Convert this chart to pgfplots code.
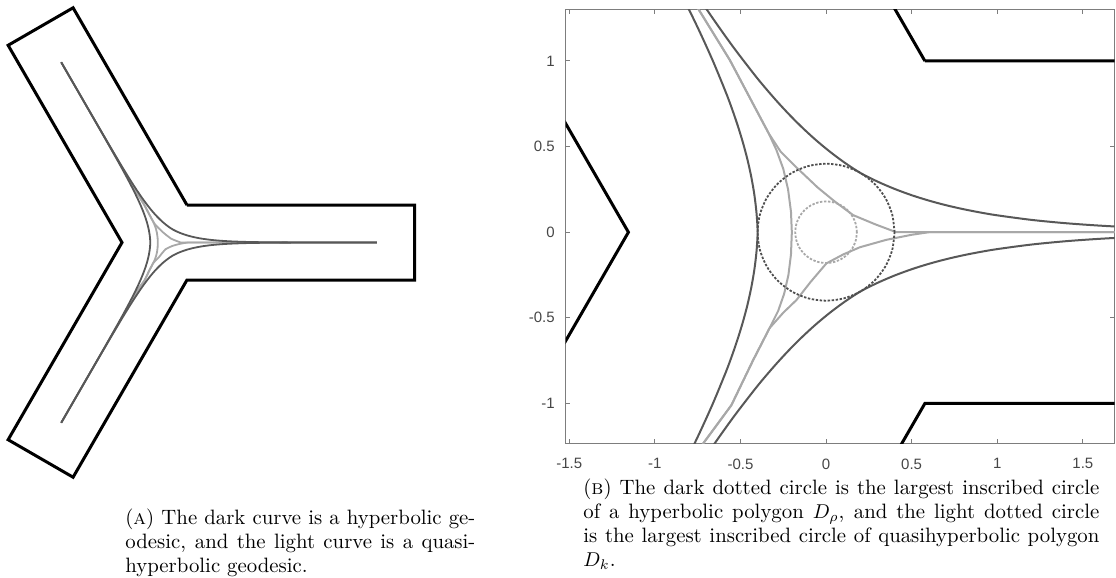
\documentclass[border=0pt]{standalone}
\usepackage{fontspec}
\setsansfont{Liberation Sans}
\usepackage{pgfplots}
\usepackage{pgfplotstable}
\pgfplotsset{compat=1.18}
\definecolor{darkc}{RGB}{88,88,88}
\definecolor{lightc}{RGB}{168,168,168}
\definecolor{axc}{RGB}{125,125,125}
\definecolor{tickc}{RGB}{70,70,70}

\pgfplotstableread{
x y
0.5774 1
6.65 1
6.65 -1
0.5774 -1
-2.459 -6.259
-4.191 -5.259
-1.1547 0
-4.191 5.259
-2.459 6.259
0.5774 1
}\poly

\pgfplotstableread{
x y
-2.775 -4.806
-1.7516 -3.030
-1.258 -2.160
-1.0652 -1.810
-0.9243 -1.5448
-0.8333 -1.3664
-0.7455 -1.1861
-0.6624 -1.0032
-0.5854 -0.8167
-0.5499 -0.7217
-0.5169 -0.6253
-0.4868 -0.5272
-0.4600 -0.4272
-0.4373 -0.3249
-0.4191 -0.2199
-0.4063 -0.1118
-0.4000 0
-0.4063 0.1118
-0.4191 0.2199
-0.4373 0.3249
-0.4600 0.4272
-0.4868 0.5272
-0.5169 0.6253
-0.5499 0.7217
-0.5854 0.8167
-0.6624 1.0032
-0.7455 1.1861
-0.8333 1.3664
-0.9243 1.5448
-1.0652 1.810
-1.258 2.160
-1.7516 3.030
-2.775 4.806
}\darkL

\pgfplotstableread{
x y
-2.775 4.806
-1.7484 3.032
-1.242 2.170
-1.0348 1.8274
-0.8757 1.5729
-0.7667 1.4048
-0.6544 1.2387
-0.5376 1.0752
-0.4146 0.9153
-0.3501 0.8371
-0.2831 0.7603
-0.2133 0.6852
-0.1400 0.6120
-0.0628 0.5411
0.0191 0.4729
0.1063 0.4078
0.2000 0.3464
0.3 0.2960
0.4 0.2530
0.5 0.2162
0.6 0.1848
0.7 0.1579
0.8 0.1350
0.9 0.1154
1.0 0.0986
1.2 0.0720
1.4 0.0526
1.6 0.0384
1.8 0.0281
2.1 0.0175
2.5 0.0093
3.5 0.0019
5.64 0
}\darkU

\pgfplotstableread{
x y
-2.775 -4.806
-1.7484 -3.032
-1.242 -2.170
-1.0348 -1.8274
-0.8757 -1.5729
-0.7667 -1.4048
-0.6544 -1.2387
-0.5376 -1.0752
-0.4146 -0.9153
-0.3501 -0.8371
-0.2831 -0.7603
-0.2133 -0.6852
-0.1400 -0.6120
-0.0628 -0.5411
0.0191 -0.4729
0.1063 -0.4078
0.2000 -0.3464
0.3 -0.2960
0.4 -0.2530
0.5 -0.2162
0.6 -0.1848
0.7 -0.1579
0.8 -0.1350
0.9 -0.1154
1.0 -0.0986
1.2 -0.0720
1.4 -0.0526
1.6 -0.0384
1.8 -0.0281
2.1 -0.0175
2.5 -0.0093
3.5 -0.0019
5.64 0
}\darkD

\pgfplotstableread{
x y
-2.775 4.806
-1.3 2.252
-0.745 1.302
-0.5625 1.006
-0.335 0.577
-0.265 0.47
-0.18 0.385
-0.09 0.30
-0.05 0.262
0.05 0.18
0.158 0.10
0.29 0.045
0.41 0.0
0.6 0.0
5.64 0
}\lightA

\pgfplotstableread{
x y
-2.775 4.806
-1.3 2.252
-0.745 1.302
-0.5625 1.006
-0.335 0.577
-0.29 0.48
-0.25 0.37
-0.222 0.25
-0.205 0.12
-0.2 0.0
-0.205 -0.13
-0.22 -0.25
-0.245 -0.36
-0.28 -0.46
-0.33 -0.56
-0.426 -0.747
-0.553 -1.01
-0.718 -1.234
-1.3 -2.252
-2.775 -4.806
}\lightB

\pgfplotstableread{
x y
-2.775 -4.806
-1.3 -2.252
-0.718 -1.234
-0.553 -1.01
-0.426 -0.747
-0.33 -0.56
-0.25 -0.47
-0.173 -0.396
-0.09 -0.29
0.002 -0.182
0.1 -0.13
0.197 -0.088
0.35 -0.045
0.5 -0.015
0.6 0.0
5.64 0
}\lightC

\pgfplotstableread{
x y
0.4 0
0.3864 0.1035
0.3464 0.2
0.2828 0.2828
0.2 0.3464
0.1035 0.3864
0 0.4
-0.1035 0.3864
-0.2 0.3464
-0.2828 0.2828
-0.3464 0.2
-0.3864 0.1035
-0.4 0
-0.3864 -0.1035
-0.3464 -0.2
-0.2828 -0.2828
-0.2 -0.3464
-0.1035 -0.3864
0 -0.4
0.1035 -0.3864
0.2 -0.3464
0.2828 -0.2828
0.3464 -0.2
0.3864 -0.1035
0.4 0
}\circD

\pgfplotstableread{
x y
0.18 0
0.1739 0.0466
0.1559 0.09
0.1273 0.1273
0.09 0.1559
0.0466 0.1739
0 0.18
-0.0466 0.1739
-0.09 0.1559
-0.1273 0.1273
-0.1559 0.09
-0.1739 0.0466
-0.18 0
-0.1739 -0.0466
-0.1559 -0.09
-0.1273 -0.1273
-0.09 -0.1559
-0.0466 -0.1739
0 -0.18
0.0466 -0.1739
0.09 -0.1559
0.1273 -0.1273
0.1559 -0.09
0.1739 -0.0466
0.18 0
}\circL

\begin{document}
\begin{tikzpicture}
\useasboundingbox (0,0) rectangle (558pt,-289pt);
% ---------------- panel A ----------------
\begin{axis}[at={(2.025pt,-2.19pt)}, anchor=north west, scale only axis,
  width=206.25pt, height=238.125pt,
  xmin=-4.3, xmax=6.7, ymin=-6.35, ymax=6.35, hide axis, clip=false]
\addplot[black, line width=1.5pt, line join=miter] table {\poly};
\addplot[lightc, line width=0.9pt, line join=round] table {\lightA};
\addplot[lightc, line width=0.9pt, line join=round] table {\lightB};
\addplot[lightc, line width=0.9pt, line join=round] table {\lightC};
\addplot[darkc, line width=0.9pt, smooth] table {\darkL};
\addplot[darkc, line width=0.9pt, smooth] table {\darkU};
\addplot[darkc, line width=0.9pt, smooth] table {\darkD};
\end{axis}
% ---------------- panel B ----------------
\begin{axis}[at={(282.85pt,-4.65pt)}, anchor=north west, scale only axis,
  width=274.4pt, height=217.1pt,
  xmin=-1.521, xmax=1.685, ymin=-1.234, ymax=1.302,
  axis line style={draw=axc, line width=0.5pt},
  tick style={draw=axc, line width=0.5pt},
  tick align=inside, major tick length=2.25pt,
  xtick={-1.5,-1,-0.5,0,0.5,1,1.5},
  xticklabels={-1.5,-1,-0.5,0,0.5,1,1.5},
  ytick={-1,-0.5,0,0.5,1},
  yticklabels={-1,-0.5,0,0.5,1},
  ticklabel style={font=\sffamily\fontsize{7.5}{9}\selectfont, text=tickc},
  xticklabel shift=4pt, yticklabel shift=2pt]
\addplot[black, line width=1.5pt, line join=miter] table {\poly};
\addplot[darkc, line width=1pt, smooth] table {\darkL};
\addplot[darkc, line width=1pt, smooth] table {\darkU};
\addplot[darkc, line width=1pt, smooth] table {\darkD};
\addplot[lightc, line width=1pt, line join=round] table {\lightA};
\addplot[lightc, line width=1pt, line join=round] table {\lightB};
\addplot[lightc, line width=1pt, line join=round] table {\lightC};
\addplot[darkc!90!black, line width=0.9pt, smooth, dash pattern=on 1.2pt off 0.8pt] table {\circD};
\addplot[lightc, line width=0.9pt, smooth, dash pattern=on 1.2pt off 0.8pt] table {\circL};
\end{axis}
% ---------------- captions ----------------
\node[anchor=north west, inner sep=0pt, align=left, font=\fontsize{10.4}{12}\selectfont]
  at (62.5pt,-254pt)
  {\makebox[175pt][s]{(\textsc{a}) The dark curve is a hyperbolic ge-}\\
   \makebox[175pt][s]{odesic, and the light curve is a quasi-}\\
   hyperbolic geodesic.};
\node[anchor=north west, inner sep=0pt, align=left, font=\fontsize{10.4}{12}\selectfont]
  at (291.5pt,-239pt)
  {\makebox[258pt][s]{(\textsc{b}) The dark dotted circle is the largest inscribed circle}\\
   \makebox[258pt][s]{of a hyperbolic polygon $D_\rho$, and the light dotted circle}\\
   \makebox[258pt][s]{is the largest inscribed circle of quasihyperbolic polygon}\\
   $D_k$.};
\end{tikzpicture}
\end{document}
